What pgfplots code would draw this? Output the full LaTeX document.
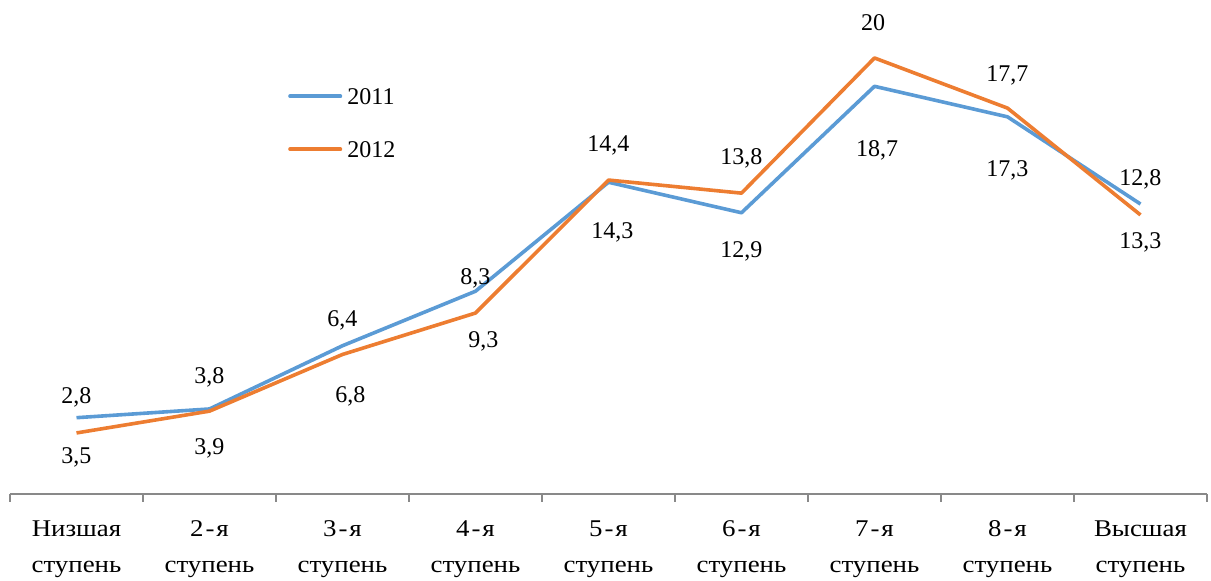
\documentclass[border=0pt]{standalone}
\usepackage{fontspec}
\setmainfont{Liberation Serif}
\newfontfamily\catfont{Liberation Serif}[FakeStretch=1.12]
\usepackage{pgfplots}
\usepackage{pgfplotstable}
\pgfplotsset{compat=1.18}
\definecolor{s2011}{HTML}{5B9BD5}
\definecolor{s2012}{HTML}{ED7D31}
\definecolor{axgray}{HTML}{898989}

% line positions as drawn
\pgfplotstableread{
x y
0 3.5
1 3.9
2 6.8
3 9.3
4 14.3
5 12.9
6 18.7
7 17.3
8 13.3
}\serA
\pgfplotstableread{
x y
0 2.8
1 3.8
2 6.4
3 8.3
4 14.4
5 13.8
6 20
7 17.7
8 12.8
}\serB
% data labels (where they sit in the chart)
\pgfplotstableread{
x y l
0 4.50 2,8
0 1.79 3,5
1 5.46 3,8
1 2.20 3,9
2 8.07 6,4
2.06 4.59 6,8
3 10.0 8,3
3.06 7.11 9,3
4 16.08 14,4
4.03 12.11 14,3
5 15.48 13,8
5 11.24 12,9
5.99 21.61 20
6.02 15.87 18,7
7 19.31 17,7
7 14.95 17,3
8 14.50 12,8
8 11.61 13,3
}\labels

\begin{document}
\begin{tikzpicture}
\useasboundingbox (0,0) rectangle (605.5pt,290.5pt);
\begin{axis}[
  at={(5pt,43.5pt)}, anchor=south west,
  scale only axis, width=598.5pt, height=247pt,
  xmin=-0.5, xmax=8.5, ymin=0, ymax=22.66,
  axis x line*=bottom, hide y axis,
  x axis line style={axgray, line width=0.8pt},
  xtick={0,...,8},
  xticklabels={{Низшая\\ступень},{2\kern1pt-\kern1pt я\\ступень},{3\kern1pt-\kern1pt я\\ступень},{4\kern1pt-\kern1pt я\\ступень},{5\kern1pt-\kern1pt я\\ступень},{6\kern1pt-\kern1pt я\\ступень},{7\kern1pt-\kern1pt я\\ступень},{8\kern1pt-\kern1pt я\\ступень},{Высшая\\ступень}},
  major tick length=0pt,
  minor xtick={-0.5,0.5,...,8.5},
  minor tick length=4pt,
  xtick align=outside,
  minor x tick style={axgray, line width=0.8pt},
  xticklabel shift=0pt,
  xticklabel style={font=\catfont\fontsize{12}{18}\selectfont, align=center, inner sep=0pt, anchor=base, yshift=-39.5pt},
  clip=false,
  legend style={draw=none, fill=none, at={(0.2321,0.8223)}, anchor=north west, inner sep=0pt,
    row sep=18.4pt, column sep=2.6pt,
    nodes={inner sep=0pt, text height=8.1pt, text depth=0pt},
    cells={anchor=west}, font=\fontsize{12}{14}\selectfont},
  legend image code/.code={\draw[#1, line cap=round] (0pt,0pt) -- (25.2pt,0pt);},
]
\addplot[s2011, line width=1.8pt, line join=round] table {\serA};
\addlegendentry{2011}
\addplot[s2012, line width=1.8pt, line join=round] table {\serB};
\addlegendentry{2012}
\addplot[draw=none, forget plot, nodes near coords, point meta=explicit symbolic,
  nodes near coords style={anchor=center, inner sep=0pt, text height=8.1pt, text depth=0pt, font=\fontsize{12}{14}\selectfont}]
  table[meta=l] {\labels};
\end{axis}
\end{tikzpicture}
\end{document}
